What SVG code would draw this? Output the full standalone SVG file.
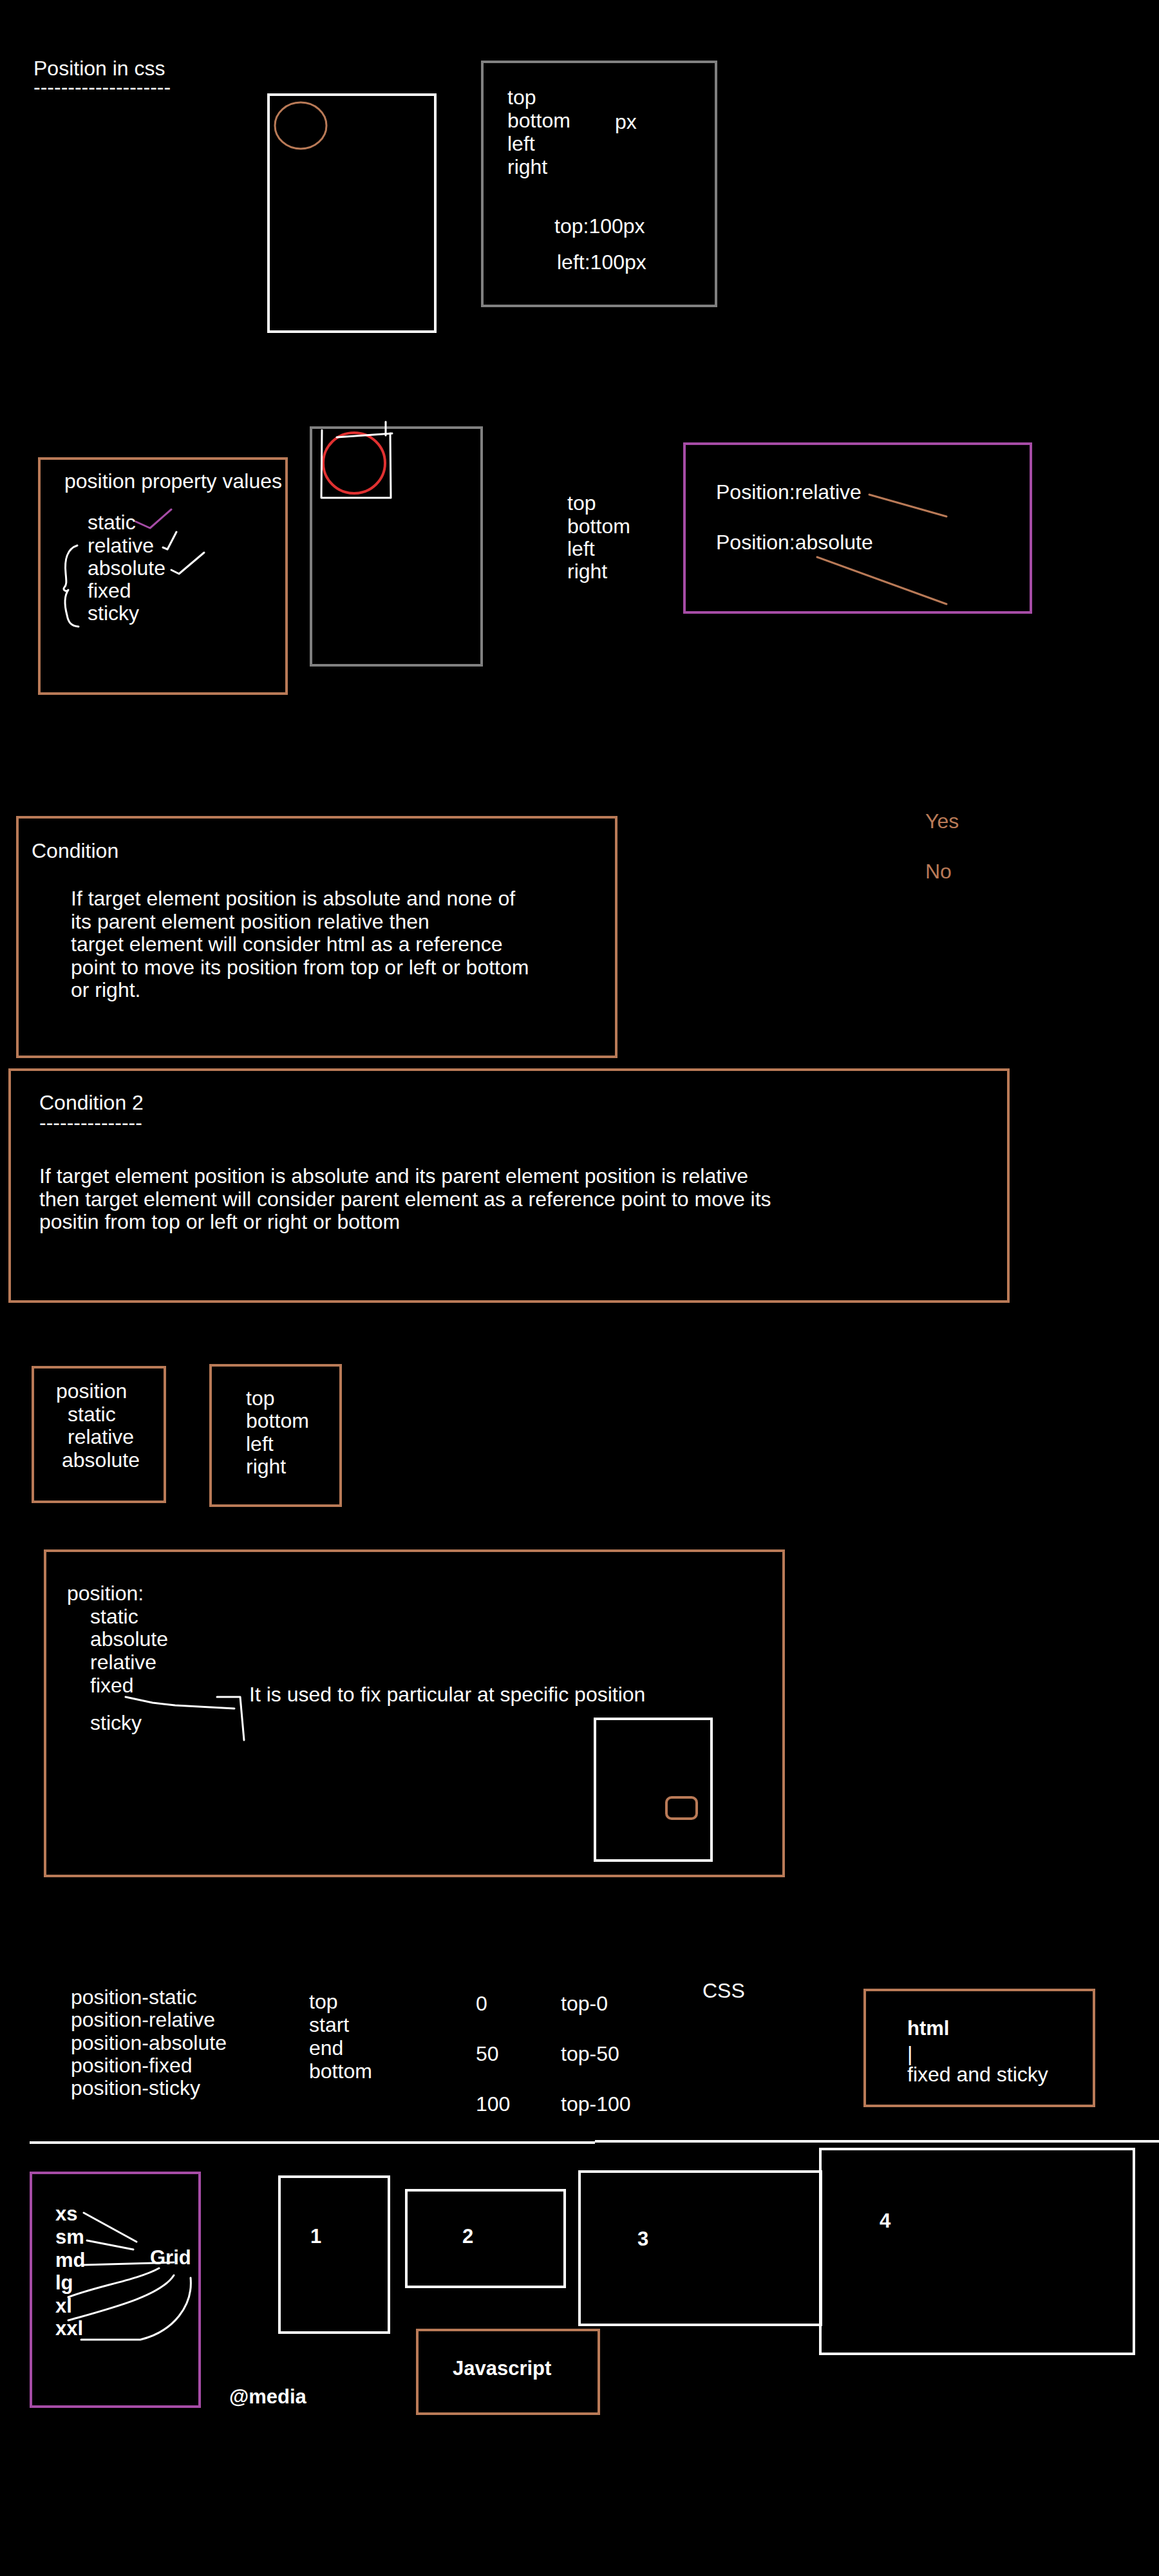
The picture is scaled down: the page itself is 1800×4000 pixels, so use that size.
<svg xmlns="http://www.w3.org/2000/svg" width="1800" height="4000" viewBox="0 0 1800 4000">
<style>
text{font-family:"Liberation Sans",Arial,sans-serif;font-size:32px;fill:#ffffff}
.b{font-weight:bold;font-size:31px}
.o{fill:#b97a57}
.box{fill:none;stroke-width:4}
.w{stroke:#ffffff}
.g{stroke:#808080}
.or{stroke:#b97a57}
.pu{stroke:#a64ca6}
.ln{fill:none;stroke-width:3;stroke-linecap:round;stroke-linejoin:round}
</style>
<rect width="1800" height="4000" fill="#000000"/>

<g id="title">
<text x="52" y="117">Position in css</text>
<text x="52" y="146">--------------------</text>
</g>

<g id="box-circle">
<rect class="box w" x="417" y="147" width="259" height="368"/>
<ellipse cx="467" cy="195" rx="40" ry="36" fill="none" stroke="#b97a57" stroke-width="3"/>
</g>

<g id="box-px">
<rect class="box g" x="749" y="96" width="363" height="379"/>
<text x="788" y="162">top</text>
<text x="788" y="198">bottom</text>
<text x="788" y="234">left</text>
<text x="788" y="270">right</text>
<text x="955" y="200">px</text>
<text x="861" y="362">top:100px</text>
<text x="865" y="418">left:100px</text>
</g>

<g id="box-values">
<rect class="box or" x="61" y="712" width="384" height="365"/>
<text x="100" y="758">position property values</text>
<text x="136" y="822">static</text>
<text x="136" y="858">relative</text>
<text x="136" y="893">absolute</text>
<text x="136" y="928">fixed</text>
<text x="136" y="963">sticky</text>
</g>

<g id="box-red-circle">
<rect class="box g" x="483" y="664" width="265" height="369"/>
<ellipse cx="550" cy="719" rx="48" ry="47" fill="none" stroke="#e03131" stroke-width="4"/>
</g>

<g id="list-tblr">
<text x="881" y="792">top</text>
<text x="881" y="828">bottom</text>
<text x="881" y="863">left</text>
<text x="881" y="898">right</text>
</g>

<g id="box-relabs">
<rect class="box pu" x="1063" y="689" width="538" height="262"/>
<text x="1112" y="775">Position:relative</text>
<text x="1112" y="853">Position:absolute</text>
</g>

<g id="condition1">
<rect class="box or" x="27" y="1269" width="930" height="372"/>
<text x="49" y="1332">Condition</text>
<text x="110" y="1406">If target element position is absolute and none of</text>
<text x="110" y="1442">its parent element position relative then</text>
<text x="110" y="1477">target element will consider html as a reference</text>
<text x="110" y="1513">point to move its position from top or left or bottom</text>
<text x="110" y="1548">or right.</text>
</g>

<g id="yes-no">
<text class="o" x="1437" y="1286">Yes</text>
<text class="o" x="1437" y="1364">No</text>
</g>

<g id="condition2">
<rect class="box or" x="15" y="1661" width="1551" height="360"/>
<text x="61" y="1723">Condition 2</text>
<text x="61" y="1754">---------------</text>
<text x="61" y="1837">If target element position is absolute and its parent element position is relative</text>
<text x="61" y="1873">then target element will consider parent element as a reference point to move its</text>
<text x="61" y="1908">positin from top or left or right or bottom</text>
</g>

<g id="box-position">
<rect class="box or" x="51" y="2123" width="205" height="209"/>
<text x="87" y="2171">position</text>
<text x="105" y="2207">static</text>
<text x="105" y="2242">relative</text>
<text x="96" y="2278">absolute</text>
</g>

<g id="box-tblr">
<rect class="box or" x="327" y="2120" width="202" height="218"/>
<text x="382" y="2182">top</text>
<text x="382" y="2217">bottom</text>
<text x="382" y="2253">left</text>
<text x="382" y="2288">right</text>
</g>

<g id="box-fixed">
<rect class="box or" x="70" y="2408" width="1147" height="505"/>
<text x="104" y="2485">position:</text>
<text x="140" y="2521">static</text>
<text x="140" y="2556">absolute</text>
<text x="140" y="2592">relative</text>
<text x="140" y="2628">fixed</text>
<text x="140" y="2686">sticky</text>
<text x="387" y="2642">It is used to fix particular at specific position</text>
<rect class="box w" x="924" y="2669" width="181" height="220"/>
<rect x="1035" y="2791" width="47" height="33" rx="8" fill="none" stroke="#b97a57" stroke-width="4"/>
</g>

<g id="tailwind">
<text x="110" y="3112">position-static</text>
<text x="110" y="3147">position-relative</text>
<text x="110" y="3183">position-absolute</text>
<text x="110" y="3218">position-fixed</text>
<text x="110" y="3253">position-sticky</text>
<text x="480" y="3119">top</text>
<text x="480" y="3155">start</text>
<text x="480" y="3191">end</text>
<text x="480" y="3227">bottom</text>
<text x="739" y="3122">0</text>
<text x="739" y="3200">50</text>
<text x="739" y="3278">100</text>
<text x="871" y="3122">top-0</text>
<text x="871" y="3200">top-50</text>
<text x="871" y="3278">top-100</text>
<text x="1091" y="3102">CSS</text>
</g>

<g id="box-html">
<rect class="box or" x="1343" y="3090" width="356" height="180"/>
<text class="b" x="1409" y="3160">html</text>
<text x="1409" y="3200">|</text>
<text x="1409" y="3232">fixed and sticky</text>
</g>

<g id="box-grid">
<rect class="box pu" x="48" y="3374" width="262" height="363"/>
<text class="b" x="86" y="3448">xs</text>
<text class="b" x="86" y="3484">sm</text>
<text class="b" x="86" y="3520">md</text>
<text class="b" x="86" y="3555">lg</text>
<text class="b" x="86" y="3591">xl</text>
<text class="b" x="86" y="3626">xxl</text>
<text class="b" x="233" y="3516">Grid</text>
</g>

<g id="box-1">
<rect class="box w" x="434" y="3380" width="170" height="242"/>
<text class="b" x="482" y="3483">1</text>
</g>
<g id="box-2">
<rect class="box w" x="631" y="3401" width="246" height="150"/>
<text class="b" x="718" y="3483">2</text>
</g>
<g id="box-3">
<rect class="box w" x="900" y="3372" width="375" height="238"/>
<text class="b" x="990" y="3487">3</text>
</g>
<g id="box-4">
<rect class="box w" x="1274" y="3337" width="487" height="318"/>
<text class="b" x="1366" y="3459">4</text>
</g>
<g id="box-js">
<rect class="box or" x="648" y="3618" width="282" height="130"/>
<text class="b" x="703" y="3688">Javascript</text>
</g>
<g id="media">
<text class="b" x="356" y="3732">@media</text>
</g>

<g id="connectors">
<path class="ln" d="M211,810 L233,820 L266,791" stroke="#a64ca6"/>
<path class="ln" d="M253,850 L260,853 L274,826" stroke="#ffffff" stroke-width="2"/>
<path class="ln" d="M266,885 L278,891 L317,858" stroke="#ffffff" stroke-width="2"/>
<path class="ln" d="M120,847 C104,852 100,870 102,890 C103,902 104,908 100,912 C96,916 104,920 106,916 C100,925 100,940 104,955 C106,966 110,972 122,973" stroke="#ffffff" stroke-width="2"/>
<path class="ln" d="M500,668 L499,773 L607,773 L606,673" stroke="#ffffff" stroke-width="3"/>
<path class="ln" d="M523,679 L609,673" stroke="#ffffff" stroke-width="5"/>
<path class="ln" d="M599,655 L599,676" stroke="#ffffff" stroke-width="2"/>
<path class="ln" d="M1350,768 L1470,802" stroke="#b97a57" stroke-width="4"/>
<path class="ln" d="M1269,865 L1470,938" stroke="#b97a57" stroke-width="4"/>
<path class="ln" d="M195,2635 L237,2644 L272,2648 L364,2653" stroke="#ffffff" stroke-width="4"/>
<path class="ln" d="M337,2635 L373,2635 L379,2702" stroke="#ffffff" stroke-width="3"/>
<path d="M46,3327 L924,3327" stroke="#ffffff" stroke-width="4" fill="none"/>
<path d="M924,3325 L1800,3325" stroke="#ffffff" stroke-width="4" fill="none"/>
<path class="ln" d="M130,3436 L212,3481" stroke="#ffffff" stroke-width="2"/>
<path class="ln" d="M135,3479 L207,3493" stroke="#ffffff" stroke-width="3"/>
<path class="ln" d="M130,3517 L270,3513" stroke="#ffffff" stroke-width="4"/>
<path class="ln" d="M106,3567 C150,3550 215,3540 247,3522" stroke="#ffffff" stroke-width="3"/>
<path class="ln" d="M106,3603 C170,3585 250,3565 270,3533" stroke="#ffffff" stroke-width="3"/>
<path class="ln" d="M126,3633 L218,3633 C270,3620 300,3580 296,3537" stroke="#ffffff" stroke-width="3"/>
</g>
</svg>
